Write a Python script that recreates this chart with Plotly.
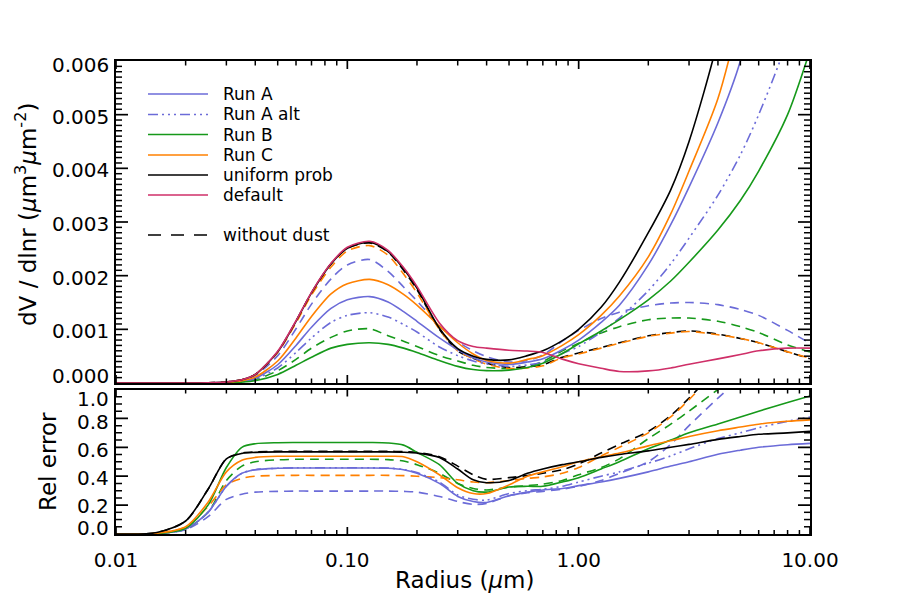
import math
import plotly.graph_objects as go

# ---------------- data ----------------
R = [0.01, 0.015, 0.02, 0.025, 0.03, 0.035, 0.04, 0.05, 0.06, 0.07, 0.085, 0.1,
     0.125, 0.15, 0.175, 0.2, 0.25, 0.3, 0.35, 0.4, 0.5, 0.6, 0.7, 0.85, 1.0,
     1.25, 1.5, 2, 2.5, 3, 4, 5, 6, 8, 10]

UNIT = 1e-3  # top-panel values below are in units of 1e-3 um^3 um^-2

TOP_RUN_A = [0, 0, 0, 0.003, 0.012, 0.037, 0.09, 0.34, 0.70, 1.04, 1.39, 1.55, 1.61,
             1.51, 1.33, 1.15, 0.84, 0.62, 0.47, 0.39, 0.345, 0.39, 0.45, 0.62, 0.80,
             1.13, 1.45, 2.2, 2.95, 3.65, 4.85, 6.0, 7.5, 10.5, 14.0]
TOP_RUN_A_ALT = [0, 0, 0, 0.002, 0.01, 0.03, 0.074, 0.28, 0.57, 0.84, 1.13, 1.26, 1.31,
                 1.23, 1.09, 0.95, 0.67, 0.51, 0.41, 0.357, 0.31, 0.335, 0.39, 0.55, 0.68,
                 0.95, 1.21, 1.72, 2.22, 2.7, 3.5, 4.25, 5.0, 6.4, 8.0]
TOP_RUN_B = [0, 0, 0, 0.001, 0.006, 0.017, 0.043, 0.16, 0.33, 0.48, 0.65, 0.72, 0.75,
             0.72, 0.65, 0.57, 0.42, 0.31, 0.25, 0.23, 0.24, 0.29, 0.37, 0.55, 0.73,
             0.97, 1.18, 1.55, 1.9, 2.25, 2.85, 3.4, 3.95, 5.0, 6.2]
TOP_RUN_C = [0, 0, 0, 0.004, 0.015, 0.044, 0.11, 0.41, 0.84, 1.24, 1.66, 1.85, 1.93,
             1.83, 1.65, 1.45, 1.06, 0.75, 0.54, 0.42, 0.37, 0.44, 0.51, 0.70, 0.90,
             1.26, 1.62, 2.35, 3.15, 3.95, 5.3, 6.9, 8.5, 12.0, 16.0]
TOP_UNIFORM = [0, 0, 0, 0.005, 0.02, 0.06, 0.16, 0.58, 1.15, 1.68, 2.22, 2.51, 2.62,
               2.45, 2.13, 1.77, 1.02, 0.64, 0.5, 0.44, 0.43, 0.51, 0.6, 0.79, 1.0,
               1.41, 1.88, 2.8, 3.6, 4.5, 6.4, 8.6, 11.0, 16.0, 21.0]
TOP_DEFAULT = [0, 0, 0, 0.005, 0.02, 0.06, 0.16, 0.59, 1.16, 1.69, 2.23, 2.53, 2.64,
               2.47, 2.15, 1.80, 1.12, 0.79, 0.68, 0.65, 0.61, 0.595, 0.57, 0.445, 0.36,
               0.275, 0.215, 0.225, 0.28, 0.35, 0.45, 0.53, 0.60, 0.65, 0.65]
# without dust
TOP_RUN_A_ND = [0, 0, 0, 0.004, 0.017, 0.052, 0.14, 0.51, 1.01, 1.47, 1.94, 2.2, 2.30,
                2.08, 1.79, 1.53, 1.07, 0.77, 0.6, 0.49, 0.39, 0.42, 0.52, 0.78, 0.98,
                1.2, 1.32, 1.44, 1.49, 1.5, 1.46, 1.37, 1.26, 0.98, 0.74]
TOP_RUN_B_ND = [0, 0, 0, 0.002, 0.008, 0.023, 0.061, 0.23, 0.44, 0.65, 0.85, 0.97, 1.01,
                0.88, 0.78, 0.68, 0.51, 0.41, 0.33, 0.29, 0.27, 0.31, 0.40, 0.60, 0.74,
                0.93, 1.05, 1.18, 1.21, 1.21, 1.15, 1.05, 0.94, 0.71, 0.58]
TOP_RUN_C_ND = [0, 0, 0, 0.005, 0.02, 0.058, 0.155, 0.57, 1.12, 1.64, 2.16, 2.46, 2.56,
                2.38, 2.03, 1.68, 1.0, 0.6, 0.45, 0.35, 0.27, 0.28, 0.32, 0.47, 0.54,
                0.65, 0.74, 0.87, 0.93, 0.96, 0.9, 0.83, 0.75, 0.58, 0.46]
TOP_UNIFORM_ND = [0, 0, 0, 0.005, 0.02, 0.06, 0.16, 0.58, 1.15, 1.68, 2.22, 2.51, 2.61,
                  2.44, 2.1, 1.74, 1.0, 0.6, 0.46, 0.37, 0.29, 0.3, 0.34, 0.48, 0.56,
                  0.66, 0.75, 0.88, 0.94, 0.97, 0.91, 0.83, 0.75, 0.58, 0.45]

BOT_RUN_A = [0.0, 0.003, 0.035, 0.15, 0.33, 0.42, 0.445, 0.455, 0.457, 0.457, 0.457, 0.457,
             0.457, 0.455, 0.445, 0.42, 0.35, 0.26, 0.225, 0.218, 0.265, 0.29, 0.305, 0.315,
             0.335, 0.36, 0.385, 0.43, 0.47, 0.5, 0.552, 0.58, 0.6, 0.618, 0.627]
BOT_RUN_A_ALT = [0.0, 0.003, 0.035, 0.15, 0.33, 0.42, 0.445, 0.455, 0.458, 0.458, 0.458, 0.458,
                 0.458, 0.456, 0.446, 0.425, 0.36, 0.27, 0.24, 0.235, 0.28, 0.3, 0.31, 0.33,
                 0.36, 0.4, 0.43, 0.49, 0.54, 0.59, 0.66, 0.70, 0.735, 0.78, 0.81]
BOT_RUN_B = [0.0, 0.002, 0.04, 0.2, 0.46, 0.6, 0.625, 0.632, 0.633, 0.633, 0.633, 0.633,
             0.633, 0.63, 0.615, 0.565, 0.48, 0.35, 0.3, 0.29, 0.325, 0.33, 0.33, 0.36,
             0.39, 0.45, 0.5, 0.59, 0.65, 0.7, 0.762, 0.81, 0.85, 0.91, 0.955]
BOT_RUN_C = [0.0, 0.005, 0.05, 0.22, 0.43, 0.51, 0.53, 0.538, 0.538, 0.538, 0.538, 0.538,
             0.538, 0.538, 0.535, 0.5, 0.41, 0.32, 0.28, 0.28, 0.34, 0.40, 0.43, 0.465,
             0.5, 0.535, 0.56, 0.61, 0.645, 0.675, 0.715, 0.74, 0.76, 0.78, 0.79]
BOT_UNIFORM = [0.0, 0.01, 0.09, 0.31, 0.52, 0.558, 0.565, 0.568, 0.568, 0.568, 0.568, 0.568,
               0.568, 0.568, 0.566, 0.56, 0.53, 0.45, 0.375, 0.355, 0.37, 0.42, 0.45, 0.48,
               0.5, 0.53, 0.55, 0.575, 0.6, 0.62, 0.655, 0.675, 0.69, 0.70, 0.71]
BOT_RUN_A_ND = [0.0, 0.002, 0.03, 0.12, 0.24, 0.275, 0.29, 0.295, 0.297, 0.297, 0.297, 0.297,
                0.297, 0.297, 0.295, 0.29, 0.26, 0.225, 0.205, 0.212, 0.265, 0.285, 0.295, 0.31,
                0.33, 0.37, 0.42, 0.5, 0.62, 0.75, 0.94, 1.08, 1.2, 1.4, 1.55]
BOT_RUN_B_ND = [0.0, 0.003, 0.035, 0.15, 0.37, 0.47, 0.5, 0.513, 0.517, 0.517, 0.517, 0.517,
                0.517, 0.515, 0.505, 0.48, 0.42, 0.35, 0.315, 0.305, 0.325, 0.335, 0.345, 0.37,
                0.41, 0.46, 0.52, 0.66, 0.76, 0.85, 1.0, 1.12, 1.2, 1.35, 1.45]
BOT_RUN_C_ND = [0.0, 0.005, 0.05, 0.19, 0.34, 0.385, 0.4, 0.405, 0.406, 0.406, 0.406, 0.406,
                0.406, 0.406, 0.404, 0.4, 0.39, 0.375, 0.36, 0.355, 0.37, 0.385, 0.395, 0.42,
                0.46, 0.54, 0.6, 0.7, 0.81, 0.93, 1.14, 1.3, 1.45, 1.7, 1.9]
BOT_UNIFORM_ND = [0.0, 0.01, 0.09, 0.31, 0.52, 0.56, 0.568, 0.572, 0.572, 0.572, 0.572, 0.572,
                  0.572, 0.572, 0.57, 0.565, 0.535, 0.47, 0.41, 0.378, 0.39, 0.405, 0.42, 0.445,
                  0.485, 0.56, 0.62, 0.71, 0.82, 0.94, 1.15, 1.3, 1.45, 1.7, 1.9]

LEGEND_NAMES = ["Run A", "Run A alt", "Run B", "Run C", "uniform prob", "default"]
NODUST_NAME = "without dust"
TOP_TICKS = [0.0, 0.001, 0.002, 0.003, 0.004, 0.005, 0.006]
BOT_TICKS = [0.0, 0.2, 0.4, 0.6, 0.8, 1.0]
X_TICKS = [0.01, 0.1, 1.0, 10.0]

# ---------------- styles ----------------
C_A = "#6b6bd8"
C_B = "#16991a"
C_C = "#ff8000"
C_U = "#000000"
C_D = "#cf2f68"
DASH = "9px,6px"
DASH3DOT = "10px,4px,2px,4px,2px,4px,2px,4px"
LW = 1.6
FONT = "DejaVu Sans"
TICKFS = 20
TITLEFS = 23
LEGFS = 17

W, H = 900, 600
ML, MR, MT, MB = 116, 90, 61, 66
PW, PH = W - ML - MR, H - MT - MB
X_EXP = (-2, 1)          # log10 range of the radius axis
TOP_RANGE = (0, 0.006)
BOT_RANGE = (0, 1)


def px_x(px):
    return (px - ML) / PW


def px_y(py):
    return (H - MB - py) / PH


top_dom = [px_y(383), 1.0]
bot_dom = [0, px_y(389.5)]
TOP_H = (top_dom[1] - top_dom[0]) * PH
BOT_H = (bot_dom[1] - bot_dom[0]) * PH

fig = go.Figure()


def add(y, color, dash, panel, scale=1.0):
    xa, ya = ("x", "y") if panel == 1 else ("x2", "y2")
    fig.add_trace(go.Scatter(
        x=R, y=[v * scale for v in y], mode="lines",
        line=dict(color=color, width=LW, dash=dash, shape="spline", smoothing=0.8),
        xaxis=xa, yaxis=ya, showlegend=False, hoverinfo="skip"))


# top panel: without-dust dashed first, then solid runs
add(TOP_RUN_A_ND, C_A, DASH, 1, UNIT)
add(TOP_RUN_B_ND, C_B, DASH, 1, UNIT)
add(TOP_UNIFORM_ND, C_U, DASH, 1, UNIT)
add(TOP_RUN_C_ND, C_C, DASH, 1, UNIT)
add(TOP_RUN_A, C_A, "solid", 1, UNIT)
add(TOP_RUN_A_ALT, C_A, DASH3DOT, 1, UNIT)
add(TOP_RUN_B, C_B, "solid", 1, UNIT)
add(TOP_RUN_C, C_C, "solid", 1, UNIT)
add(TOP_UNIFORM, C_U, "solid", 1, UNIT)
add(TOP_DEFAULT, C_D, "solid", 1, UNIT)

# bottom panel
add(BOT_RUN_A_ND, C_A, DASH, 2)
add(BOT_RUN_B_ND, C_B, DASH, 2)
add(BOT_UNIFORM_ND, C_U, DASH, 2)
add(BOT_RUN_C_ND, C_C, DASH, 2)
add(BOT_RUN_A, C_A, "solid", 2)
add(BOT_RUN_A_ALT, C_A, DASH3DOT, 2)
add(BOT_RUN_B, C_B, "solid", 2)
add(BOT_RUN_C, C_C, "solid", 2)
add(BOT_UNIFORM, C_U, "solid", 2)

AX = dict(showline=True, linecolor="black", linewidth=1.8, mirror=True,
          ticks="", showgrid=False, zeroline=False,
          tickfont=dict(family=FONT, size=TICKFS, color="black"))

fig.update_layout(
    width=W, height=H,
    margin=dict(l=ML, r=MR, t=MT, b=MB),
    paper_bgcolor="white", plot_bgcolor="white",
    font=dict(family=FONT, color="black"),
    showlegend=False,
    xaxis=dict(AX, type="log", range=list(X_EXP), tickvals=X_TICKS, domain=[0, 1],
               anchor="y", showticklabels=False),
    yaxis=dict(AX, range=list(TOP_RANGE), tickvals=TOP_TICKS, showticklabels=False,
               domain=top_dom, anchor="x"),
    xaxis2=dict(AX, type="log", range=list(X_EXP), tickvals=X_TICKS,
                ticktext=[f"{v:.2f}" for v in X_TICKS],
                domain=[0, 1], anchor="y2", ticklabelstandoff=7),
    yaxis2=dict(AX, range=list(BOT_RANGE), tickvals=BOT_TICKS, showticklabels=False,
                domain=bot_dom, anchor="x2"),
)

# ---------------- tick marks (inside, on all four sides, IDL style) ----------------
shapes = []
MAJ_LINE = dict(color="black", width=1.7)
MIN_LINE = dict(color="black", width=1.5)
minor_x = [m * 10.0 ** e for e in range(X_EXP[0], X_EXP[1]) for m in range(2, 10)]
minor_top = [i * 0.0001 for i in range(61) if i % 10]
minor_bot = [i * 0.05 for i in range(21) if i % 4]


def xfrac(v):
    return (math.log10(v) - X_EXP[0]) / (X_EXP[1] - X_EXP[0])


def x_ticks(vals, yref, panel_h, length, line):
    d = length / panel_h
    for v in vals:
        xp = xfrac(v)
        for y0, y1 in [(0, d), (1, 1 - d)]:
            shapes.append(dict(type="line", xref="paper", yref=yref, x0=xp, x1=xp,
                               y0=y0, y1=y1, line=line, layer="above"))


def y_ticks(vals, yref, length, line):
    d = length / PW
    for v in vals:
        for x0, x1 in [(0, d), (1, 1 - d)]:
            shapes.append(dict(type="line", xref="paper", yref=yref, x0=x0, x1=x1,
                               y0=v, y1=v, line=line, layer="above"))


x_ticks(X_TICKS, "y domain", TOP_H, 8, MAJ_LINE)
x_ticks(minor_x, "y domain", TOP_H, 4.5, MIN_LINE)
x_ticks(X_TICKS, "y2 domain", BOT_H, 7, MAJ_LINE)
x_ticks(minor_x, "y2 domain", BOT_H, 4, MIN_LINE)
y_ticks(TOP_TICKS[1:-1], "y", 12, MAJ_LINE)
y_ticks(minor_top, "y", 6, MIN_LINE)
y_ticks(BOT_TICKS[1:-1], "y2", 12, MAJ_LINE)
y_ticks(minor_bot, "y2", 6, MIN_LINE)

annotations = []
# y tick labels (nudged inward at the panel ends, as in the reference)
top_shift = {0.0: 7, 0.006: -4}
for v in TOP_TICKS:
    annotations.append(dict(
        x=0, xref="paper", y=v, yref="y", text=f"{v:.3f}", showarrow=False,
        xanchor="right", yanchor="middle", xshift=-5, yshift=top_shift.get(v, -2),
        font=dict(family=FONT, size=TICKFS, color="black")))
bot_shift = {0.0: 6, 0.2: -1, 0.4: -2, 0.6: -3, 0.8: -4, 1.0: -9}
for v in BOT_TICKS:
    annotations.append(dict(
        x=0, xref="paper", y=v, yref="y2", text=f"{v:.1f}", showarrow=False,
        xanchor="right", yanchor="middle", xshift=-5, yshift=bot_shift[v],
        font=dict(family=FONT, size=TICKFS, color="black")))

# axis titles
annotations.append(dict(
    x=px_x(26), y=px_y(215), xref="paper", yref="paper", textangle=-90,
    text="dV / dlnr (<i>μ</i>m<sup>3</sup><i>μ</i>m<sup>-2</sup>)", showarrow=False,
    xanchor="center", yanchor="middle", font=dict(family=FONT, size=TITLEFS, color="black")))
annotations.append(dict(
    x=px_x(48), y=px_y(462), xref="paper", yref="paper", textangle=-90,
    text="Rel error", showarrow=False, xanchor="center", yanchor="middle",
    font=dict(family=FONT, size=TITLEFS, color="black")))
annotations.append(dict(
    x=px_x(464), y=px_y(580), xref="paper", yref="paper",
    text="Radius (<i>μ</i>m)", showarrow=False, xanchor="center", yanchor="middle",
    font=dict(family=FONT, size=TITLEFS, color="black")))

# manual legend
leg_rows = [94, 114.5, 134.5, 155, 175, 195]
leg_styles = [(C_A, "solid"), (C_A, DASH3DOT), (C_B, "solid"), (C_C, "solid"),
              (C_U, "solid"), (C_D, "solid")]
for name, row, (col, dsh) in zip(LEGEND_NAMES, leg_rows, leg_styles):
    shapes.append(dict(type="line", xref="paper", yref="paper",
                       x0=px_x(148), x1=px_x(208), y0=px_y(row), y1=px_y(row),
                       line=dict(color=col, width=LW, dash=dsh)))
    annotations.append(dict(x=px_x(221), y=px_y(row), xref="paper", yref="paper",
                            text=name, showarrow=False, xanchor="left", yanchor="middle",
                            font=dict(family=FONT, size=LEGFS, color="black")))
shapes.append(dict(type="line", xref="paper", yref="paper",
                   x0=px_x(148), x1=px_x(208), y0=px_y(235), y1=px_y(235),
                   line=dict(color="black", width=LW, dash="13px,10px")))
annotations.append(dict(x=px_x(221), y=px_y(235), xref="paper", yref="paper",
                        text=NODUST_NAME, showarrow=False, xanchor="left", yanchor="middle",
                        font=dict(family=FONT, size=LEGFS, color="black")))

fig.update_layout(annotations=annotations, shapes=shapes)
fig.write_html("out.html")
